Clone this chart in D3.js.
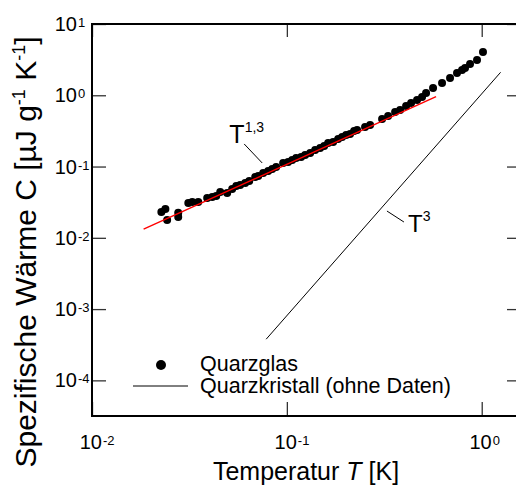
<!DOCTYPE html>
<html>
<head>
<meta charset="utf-8">
<script src="https://cdn.jsdelivr.net/npm/d3@7"></script>
<style>
body { margin: 0; background: #fff; }
text { font-family: "Liberation Sans", Arial, sans-serif; fill: #000; }
</style>
</head>
<body>
<svg id="chart" width="516" height="489"></svg>
<script>
// Quarzglas: Temperatur [K] und spezifische Waerme [uJ/(g K)]
var glasT = [0.0227, 0.0238, 0.0243, 0.0277, 0.0277, 0.0312, 0.0327, 0.0351, 0.0390, 0.0414,
  0.0434, 0.0455, 0.0494, 0.0524, 0.0550, 0.0576, 0.0611, 0.0641, 0.0688, 0.0713,
  0.0756, 0.0802, 0.0841, 0.0881, 0.0957, 0.1015, 0.1065, 0.1116, 0.1184, 0.1241,
  0.1317, 0.1397, 0.1482, 0.1554, 0.1628, 0.1728, 0.1833, 0.1921, 0.2014, 0.2111,
  0.2213, 0.2293, 0.2520, 0.2674, 0.3081, 0.3308, 0.3593, 0.3811, 0.4091, 0.4340,
  0.4658, 0.4941, 0.5181, 0.5627, 0.6257, 0.6878, 0.7469, 0.7925, 0.8211, 0.8710,
  0.9460, 1.015];
var glasC = [0.0231, 0.0254, 0.0178, 0.0224, 0.0196, 0.0309, 0.0319, 0.0319, 0.0363, 0.0375,
  0.0387, 0.0440, 0.0426, 0.0485, 0.0534, 0.0552, 0.0589, 0.0628, 0.0715, 0.0739,
  0.0813, 0.0868, 0.0925, 0.0987, 0.1123, 0.1160, 0.1238, 0.1320, 0.1363, 0.1455,
  0.1551, 0.1710, 0.1824, 0.1945, 0.2143, 0.2213, 0.2439, 0.2601, 0.2774, 0.2866,
  0.3158, 0.3262, 0.3592, 0.3834, 0.4652, 0.5126, 0.5832, 0.6222, 0.7080, 0.7799,
  0.8593, 0.9467, 1.077, 1.266, 1.488, 1.748, 2.055, 2.264, 2.415, 2.748,
  3.127, 4.048];
// Fit T^1,3 (rot)
var fitT = [0.0184, 0.583];
var fitC = [0.0132, 0.956];
// Quarzkristall T^3 (ohne Daten)
var kristallT = [0.0783, 1.25];
var kristallC = [3.78e-4, 2.10];

var xTickExp = [-2, -1, 0];
var yTickExp = [-4, -3, -2, -1, 0, 1];
var legendLabels = ["Quarzglas", "Quarzkristall (ohne Daten)"];

var svg = d3.select("#chart");
var plotLeft = 92, plotTop = 24, plotRight = 520, plotBottom = 416;

var x = d3.scaleLog().domain([0.01, 1.572]).range([plotLeft, plotRight]);
var y = d3.scaleLog().domain([Math.pow(10, -4.5), 10]).range([plotBottom, plotTop]);

var xTicks = xTickExp.map(function(e) { return Math.pow(10, e); });
var yTicks = yTickExp.map(function(e) { return Math.pow(10, e); });

// ticks (pointing inwards)
var tickStyle = function(g) {
  g.select(".domain").remove();
  g.selectAll("line").attr("stroke", "#333").attr("stroke-width", 1.3);
  g.selectAll("text").remove();
};
svg.append("g").attr("transform", "translate(" + plotLeft + ",0)")
  .call(d3.axisLeft(y).tickValues(yTicks).tickSize(-14)).call(tickStyle);
svg.append("g").attr("transform", "translate(" + plotRight + ",0)")
  .call(d3.axisRight(y).tickValues(yTicks).tickSize(-13)).call(tickStyle);
svg.append("g").attr("transform", "translate(0," + plotTop + ")")
  .call(d3.axisTop(x).tickValues(xTicks).tickSize(-13)).call(tickStyle);
svg.append("g").attr("transform", "translate(0," + plotBottom + ")")
  .call(d3.axisBottom(x).tickValues(xTicks).tickSize(-14)).call(tickStyle);

// frame
svg.append("rect")
  .attr("x", plotLeft).attr("y", plotTop)
  .attr("width", plotRight - plotLeft).attr("height", plotBottom - plotTop)
  .attr("fill", "none").attr("stroke", "#000").attr("stroke-width", 2);

// tick labels 10^n
yTickExp.forEach(function(e) {
  var py = y(Math.pow(10, e));
  svg.append("text").attr("x", plotLeft - 15).attr("y", py + 7)
    .attr("text-anchor", "end").attr("font-size", 20).text("10");
  svg.append("text").attr("x", plotLeft - 14).attr("y", py + 3)
    .attr("font-size", 13).text(e);
});
xTickExp.forEach(function(e) {
  var px = x(Math.pow(10, e));
  svg.append("text").attr("x", px + 10).attr("y", plotBottom + 33)
    .attr("text-anchor", "end").attr("font-size", 20).text("10");
  svg.append("text").attr("x", px + 11).attr("y", plotBottom + 29)
    .attr("font-size", 13).text(e);
});

// axis titles
var xt = svg.append("text").attr("x", (plotLeft + plotRight) / 2).attr("y", 480)
  .attr("text-anchor", "middle").attr("font-size", 25);
xt.append("tspan").text("Temperatur ");
xt.append("tspan").attr("font-style", "italic").text("T");
xt.append("tspan").text(" [K]");

var yt = svg.append("text").attr("transform", "translate(36,252) rotate(-90)")
  .attr("text-anchor", "middle").attr("font-size", 30);
yt.append("tspan").text("Spezifische Wärme C [µJ g");
yt.append("tspan").attr("font-size", 18).attr("dy", -11).text("-1");
yt.append("tspan").attr("dy", 11).text(" K");
yt.append("tspan").attr("font-size", 18).attr("dy", -11).text("-1");
yt.append("tspan").attr("dy", 11).text("]");

var line = d3.line()
  .x(function(d) { return x(d[0]); })
  .y(function(d) { return y(d[1]); });

// T^3 line
svg.append("path")
  .datum(d3.zip(kristallT, kristallC))
  .attr("d", line).attr("fill", "none").attr("stroke", "#000").attr("stroke-width", 1);

// data points
svg.append("g").selectAll("circle")
  .data(d3.zip(glasT, glasC))
  .join("circle")
  .attr("cx", function(d) { return x(d[0]); })
  .attr("cy", function(d) { return y(d[1]); })
  .attr("r", 4)
  .attr("fill", "#000");

// fit line
svg.append("path")
  .datum(d3.zip(fitT, fitC))
  .attr("d", line).attr("fill", "none").attr("stroke", "#ff0000").attr("stroke-width", 1.4);

// annotations
var annotate = function(t, c, dx, dy, label, sup, size) {
  var px = x(t), py = y(c);
  svg.append("line")
    .attr("x1", px).attr("y1", py).attr("x2", px + dx).attr("y2", py + dy)
    .attr("stroke", "#000").attr("stroke-width", 1);
  var tx = dx < 0 ? px + dx - 15 : px + dx + 4;
  var ty = dx < 0 ? py + dy - 1 : py + dy + 10;
  svg.append("text").attr("x", tx).attr("y", ty).attr("font-size", size).text(label);
  svg.append("text").attr("x", tx + 0.62 * size).attr("y", ty - 11).attr("font-size", 14).text(sup);
};
annotate(0.0747, 0.1123, -18, -19, "T", "1,3", 25);
annotate(0.3263, 0.02377, 17, 11, "T", "3", 24);

// legend
var leg = svg.append("g");
leg.append("circle").attr("cx", 161).attr("cy", 365).attr("r", 5).attr("fill", "#000");
leg.append("line").attr("x1", 133).attr("x2", 188).attr("y1", 386).attr("y2", 386)
  .attr("stroke", "#000").attr("stroke-width", 1);
leg.selectAll("text").data(legendLabels).join("text")
  .attr("x", 200)
  .attr("y", function(d, i) { return 371 + i * 22; })
  .attr("font-size", 21.5)
  .text(function(d) { return d; });
</script>
</body>
</html>
